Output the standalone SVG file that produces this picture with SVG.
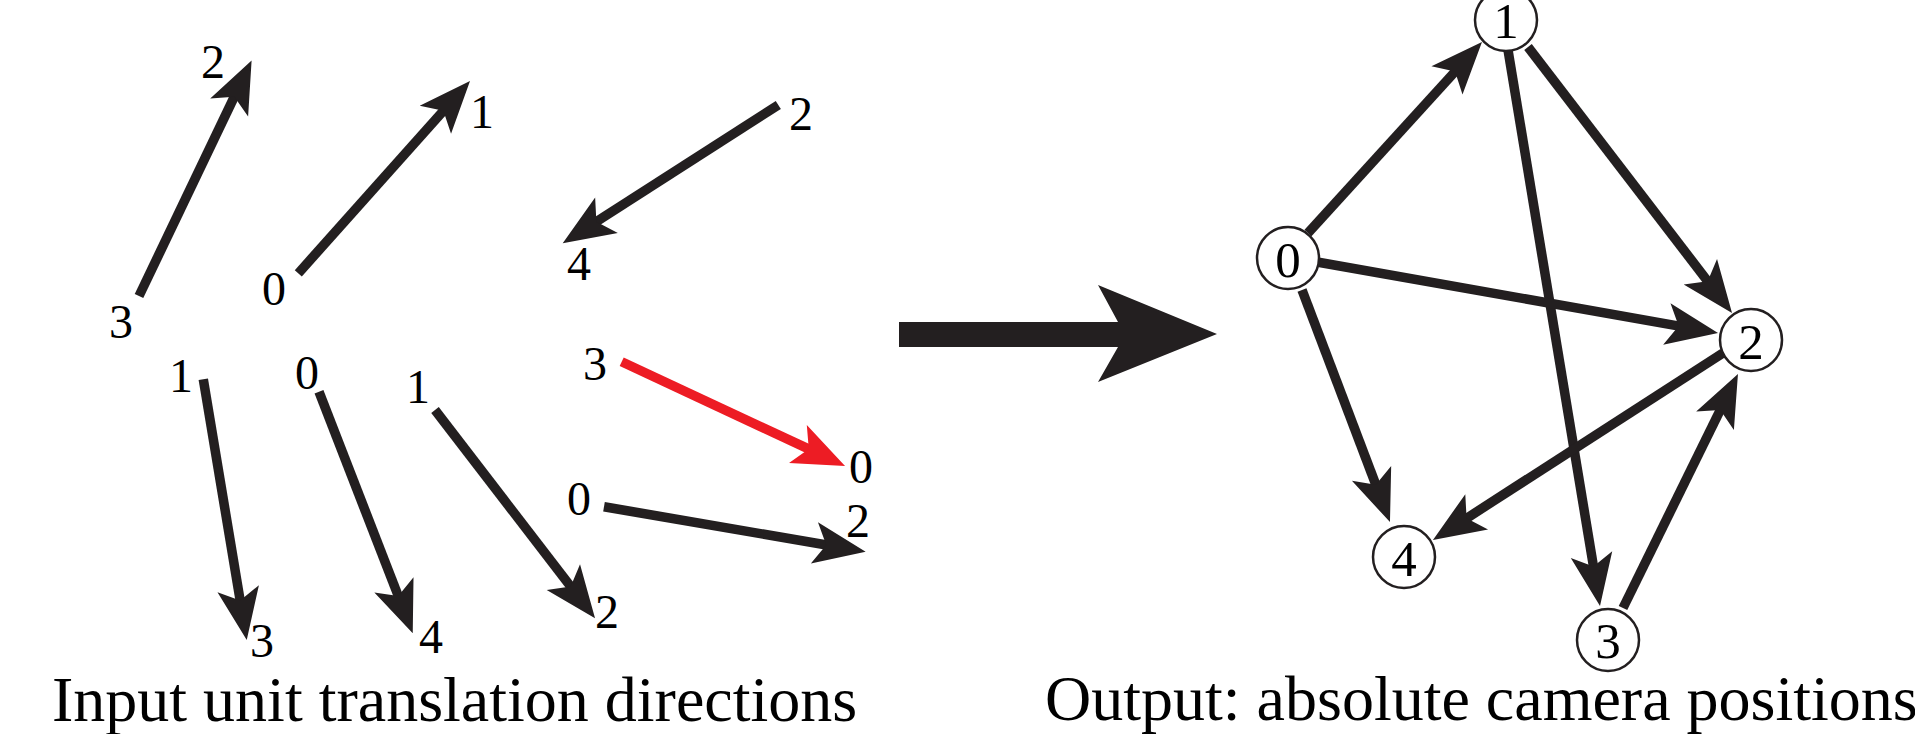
<svg xmlns="http://www.w3.org/2000/svg" width="1915" height="734" viewBox="0 0 1915 734">
  <style>
    .shaft { stroke: #231f20; stroke-width: 9.5; fill: none; marker-end: url(#head); }
    .shaft.red { stroke: #ed1c24; marker-end: url(#head-red); }
    .lbl { font-family: "Liberation Serif", "Times New Roman", serif; font-size: 48px; fill: #000; text-anchor: middle; }
    .nlbl { font-family: "Liberation Serif", "Times New Roman", serif; font-size: 51px; fill: #000; text-anchor: middle; }
    .node { fill: #fff; stroke: #231f20; stroke-width: 2.5; }
    .caption { font-family: "Liberation Serif", "Times New Roman", serif; font-size: 64px; fill: #000; }
  </style>
  <defs>
    <!-- notched arrowhead; shaft stops at the notch, tip lies 38 units further on -->
    <marker id="head" markerUnits="userSpaceOnUse" viewBox="-54 -23 56 46" markerWidth="56" markerHeight="46" refX="-38" refY="0" orient="auto">
      <path d="M0,0 L-52,-21 L-40,0 L-52,21 Z" fill="#231f20"/>
    </marker>
    <marker id="head-red" markerUnits="userSpaceOnUse" viewBox="-54 -23 56 46" markerWidth="56" markerHeight="46" refX="-38" refY="0" orient="auto">
      <path d="M0,0 L-52,-21 L-40,0 L-52,21 Z" fill="#ed1c24"/>
    </marker>
  </defs>

  <rect width="1915" height="734" fill="#fff"/>

  <!-- left: input unit translation directions -->
  <g id="input-directions">
    <g id="dir-3-2">
      <line class="shaft" x1="139" y1="296" x2="235.2" y2="94.9"/>
      <text class="lbl" x="121" y="338">3</text>
      <text class="lbl" x="213" y="78">2</text>
    </g>
    <g id="dir-0-1">
      <line class="shaft" x1="298.3" y1="273.3" x2="444.7" y2="109.3"/>
      <text class="lbl" x="274" y="305">0</text>
      <text class="lbl" x="482" y="128">1</text>
    </g>
    <g id="dir-1-3">
      <line class="shaft" x1="203.3" y1="379.3" x2="240.5" y2="602.5"/>
      <text class="lbl" x="181" y="392">1</text>
      <text class="lbl" x="262" y="657">3</text>
    </g>
    <g id="dir-0-4">
      <line class="shaft" x1="319" y1="391.7" x2="399" y2="597.9"/>
      <text class="lbl" x="307" y="389">0</text>
      <text class="lbl" x="431" y="653">4</text>
    </g>
    <g id="dir-1-2">
      <line class="shaft" x1="435" y1="410" x2="571.9" y2="588.2"/>
      <text class="lbl" x="418" y="403">1</text>
      <text class="lbl" x="607" y="628">2</text>
    </g>
    <g id="dir-2-4">
      <line class="shaft" x1="778.3" y1="105" x2="594.7" y2="222.8"/>
      <text class="lbl" x="801" y="130">2</text>
      <text class="lbl" x="579" y="280">4</text>
    </g>
    <g id="dir-3-0">
      <line class="shaft red" x1="621.7" y1="361.7" x2="810.6" y2="449.9"/>
      <text class="lbl" x="595" y="380">3</text>
      <text class="lbl" x="861" y="483">0</text>
    </g>
    <g id="dir-0-2">
      <line class="shaft" x1="604" y1="506.7" x2="828.2" y2="545.3"/>
      <text class="lbl" x="579" y="515">0</text>
      <text class="lbl" x="858" y="537">2</text>
    </g>
  </g>

  <!-- big transition arrow -->
  <polygon id="transition" points="899,322 1118,322 1098,285 1217,334 1098,382 1118,347 899,347" fill="#231f20"/>

  <!-- right: camera graph edges -->
  <g id="edges">
    <line class="shaft" x1="1308" y1="233" x2="1456.4" y2="70.1"/>
    <line class="shaft" x1="1528" y1="47" x2="1708.9" y2="282.8"/>
    <line class="shaft" x1="1508" y1="50" x2="1593.8" y2="568.5"/>
    <line class="shaft" x1="1317" y1="262" x2="1680.6" y2="326.4"/>
    <line class="shaft" x1="1302" y1="290" x2="1376.5" y2="486.5"/>
    <line class="shaft" x1="1723" y1="353" x2="1464.9" y2="519.4"/>
    <line class="shaft" x1="1623" y1="608" x2="1721.2" y2="408.1"/>
  </g>

  <!-- camera nodes -->
  <g id="node-0">
    <circle class="node" cx="1288" cy="258" r="31"/>
    <text class="nlbl" x="1288" y="277">0</text>
  </g>
  <g id="node-1">
    <circle class="node" cx="1506" cy="20" r="31"/>
    <text class="nlbl" x="1506" y="38">1</text>
  </g>
  <g id="node-2">
    <circle class="node" cx="1751" cy="340" r="31"/>
    <text class="nlbl" x="1751" y="359">2</text>
  </g>
  <g id="node-3">
    <circle class="node" cx="1608" cy="640" r="31"/>
    <text class="nlbl" x="1608" y="658">3</text>
  </g>
  <g id="node-4">
    <circle class="node" cx="1404" cy="557" r="31"/>
    <text class="nlbl" x="1404" y="576">4</text>
  </g>

  <!-- captions -->
  <text class="caption" x="52" y="721">Input unit translation directions</text>
  <text class="caption" x="1045" y="720">Output: absolute camera positions</text>
</svg>
